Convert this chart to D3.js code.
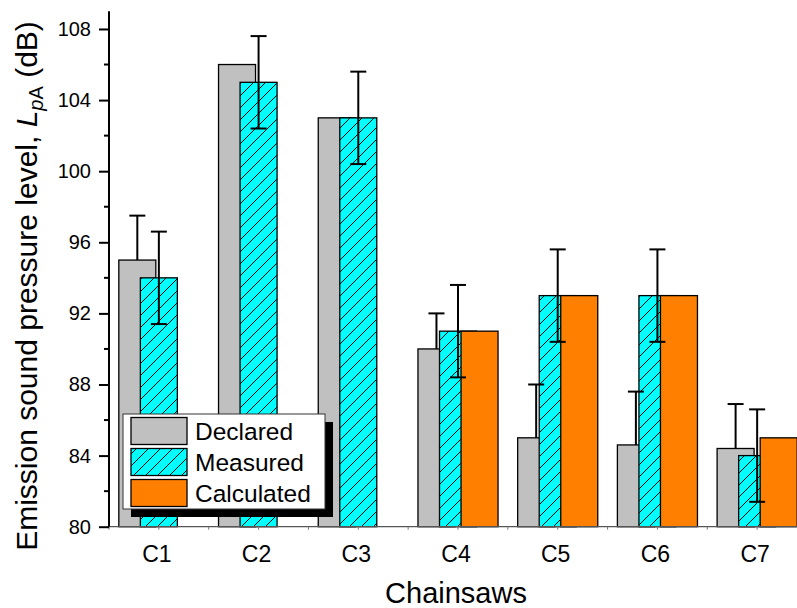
<!DOCTYPE html>
<html>
<head>
<meta charset="utf-8">
<script src="https://cdn.jsdelivr.net/npm/d3@7"></script>
<style>
  html, body { margin: 0; padding: 0; background: #fff; }
  svg { display: block; font-family: Arial, "Liberation Sans", sans-serif; }
</style>
</head>
<body>
<svg id="chart" width="797" height="608"></svg>
<script>
// Chainsaw noise: declared, measured and calculated emission sound pressure levels
const categories = ["C1", "C2", "C3", "C4", "C5", "C6", "C7"];
const declared   = [95, 106, 103, 90, 85, 84.6, 84.4];
const declaredErrPlus = [2.5, null, null, 2, 3, 3, 2.5];
const measured   = [94, 105, 103, 91, 93, 93, 84];
const measuredErr = [2.6, 2.6, 2.6, 2.6, 2.6, 2.6, 2.6];
const calculated = [null, null, null, 91, 93, 93, 85];
const yTicks = [80, 84, 88, 92, 96, 100, 104, 108];
const yMinorTicks = [82, 86, 90, 94, 98, 102, 106];
const seriesNames = ["Declared", "Measured", "Calculated"];

const svg = d3.select("#chart");

// Defs: diagonal hatch for measured bars
const defs = svg.append("defs");
const hatch = defs.append("pattern")
  .attr("id", "hatch")
  .attr("patternUnits", "userSpaceOnUse")
  .attr("width", 12).attr("height", 12);
hatch.append("rect").attr("width", 12).attr("height", 12).attr("fill", "#00FFFF");
hatch.append("path")
  .attr("d", "M0,12 L12,0 M-3,3 L3,-3 M9,15 L15,9")
  .attr("stroke", "#000").attr("stroke-width", 1);

const axisLeftX = 109;
const x = d3.scaleLinear().domain([0.5, 7.5]).range([axisLeftX, 807]);
const y = d3.scaleLinear().domain([80, 109]).range([526.7, 11.2]);

const barW = 0.371;     // bar width in category units
const step = 0.216;     // shift between overlapping bars

const rows = categories.map((c, i) => ({
  cat: c, pos: i + 1,
  dec: declared[i], decErr: declaredErrPlus[i],
  mea: measured[i], meaErr: measuredErr[i],
  cal: calculated[i]
}));

const barWidthPx = x(1 + barW) - x(1);
const g = svg.append("g");

function drawBars(key, offset, fill) {
  g.selectAll(null)
    .data(rows.filter(d => d[key] != null))
    .join("rect")
    .attr("x", d => x(d.pos + offset - barW / 2))
    .attr("y", d => y(d[key]))
    .attr("width", barWidthPx)
    .attr("height", d => y(80) - y(d[key]))
    .attr("fill", fill)
    .attr("stroke", "#000")
    .attr("stroke-width", 1.3);
}
drawBars("dec", -step, "#C0C0C0");
drawBars("mea", 0, "url(#hatch)");
drawBars("cal", step, "#FF8000");

// Error bars
const capHalf = 8;
const eb = svg.append("g").attr("stroke", "#000").attr("stroke-width", 2).attr("fill", "none");
rows.filter(d => d.decErr != null).forEach(d => {
  const cx = x(d.pos - step);
  eb.append("line").attr("x1", cx).attr("x2", cx).attr("y1", y(d.dec)).attr("y2", y(d.dec + d.decErr));
  eb.append("line").attr("x1", cx - capHalf).attr("x2", cx + capHalf)
    .attr("y1", y(d.dec + d.decErr)).attr("y2", y(d.dec + d.decErr));
});
rows.forEach(d => {
  const cx = x(d.pos);
  const top = y(d.mea + d.meaErr), bot = y(d.mea - d.meaErr);
  eb.append("line").attr("x1", cx).attr("x2", cx).attr("y1", top).attr("y2", bot);
  eb.append("line").attr("x1", cx - capHalf).attr("x2", cx + capHalf).attr("y1", top).attr("y2", top);
  eb.append("line").attr("x1", cx - capHalf).attr("x2", cx + capHalf).attr("y1", bot).attr("y2", bot);
});

// Bottom axis: thin gray base line with small half-step ticks
const xAxisG = svg.append("g").attr("transform", `translate(0,${y(80)})`);
xAxisG.append("line").attr("x1", axisLeftX).attr("x2", 807).attr("y1", 0).attr("y2", 0)
  .attr("stroke", "#555").attr("stroke-width", 1.2);
xAxisG.selectAll(null)
  .data(d3.range(0.5, 7.51, 0.5))
  .join("line")
  .attr("x1", d => x(d)).attr("x2", d => x(d))
  .attr("y1", 0).attr("y2", 3)
  .attr("stroke", "#777").attr("stroke-width", 1);
xAxisG.selectAll(null)
  .data(rows)
  .join("text")
  .attr("x", d => x(d.pos) - 2)
  .attr("y", 35)
  .attr("text-anchor", "middle")
  .attr("font-size", 23)
  .attr("fill", "#000")
  .text(d => d.cat);

// Left axis
const yAxis = d3.axisLeft(y).tickValues(yTicks).tickSize(10).tickPadding(8).tickFormat(d3.format("d"));
const yAxisG = svg.append("g").attr("transform", `translate(${axisLeftX},0)`).call(yAxis);
yAxisG.select(".domain").attr("stroke", "#000").attr("stroke-width", 2)
  .attr("d", `M0,${y(109)}V${y(80)}`);
yAxisG.selectAll(".tick line").attr("stroke", "#000").attr("stroke-width", 2);
yAxisG.selectAll(".tick text").attr("font-size", 20).attr("fill", "#000")
  .attr("font-family", "Arial, 'Liberation Sans', sans-serif");
yAxisG.selectAll(null)
  .data(yMinorTicks)
  .join("line")
  .attr("x1", -5).attr("x2", 0)
  .attr("y1", d => y(d)).attr("y2", d => y(d))
  .attr("stroke", "#000").attr("stroke-width", 2);

// Axis titles
svg.append("text")
  .attr("x", 456).attr("y", 603)
  .attr("text-anchor", "middle")
  .attr("font-size", 29)
  .text("Chainsaws");

const yTitle = svg.append("text")
  .attr("transform", "translate(37,286) rotate(-90)")
  .attr("text-anchor", "middle")
  .attr("font-size", 30);
yTitle.append("tspan").text("Emission sound pressure level, ");
yTitle.append("tspan").attr("font-style", "italic").text("L");
yTitle.append("tspan").attr("font-style", "italic").attr("font-size", 20).attr("dy", 6).text("p");
yTitle.append("tspan").attr("font-size", 20).text("A");
yTitle.append("tspan").attr("dy", -6).text("\u00A0(dB)");

// Legend with drop shadow
const leg = svg.append("g").attr("transform", "translate(123,414)");
leg.append("rect").attr("x", 8).attr("y", 8).attr("width", 202).attr("height", 95).attr("fill", "#000");
leg.append("rect").attr("width", 202).attr("height", 95).attr("fill", "#fff")
  .attr("stroke", "#333").attr("stroke-width", 1);
const legFills = ["#C0C0C0", "url(#hatch)", "#FF8000"];
seriesNames.forEach((name, i) => {
  const ry = 3.5 + i * 31;
  leg.append("rect").attr("x", 8).attr("y", ry).attr("width", 56).attr("height", 27)
    .attr("fill", legFills[i]).attr("stroke", "#000").attr("stroke-width", 1.3);
  leg.append("text").attr("x", 72).attr("y", ry + 22).attr("font-size", 24.5).text(name);
});
</script>
</body>
</html>
